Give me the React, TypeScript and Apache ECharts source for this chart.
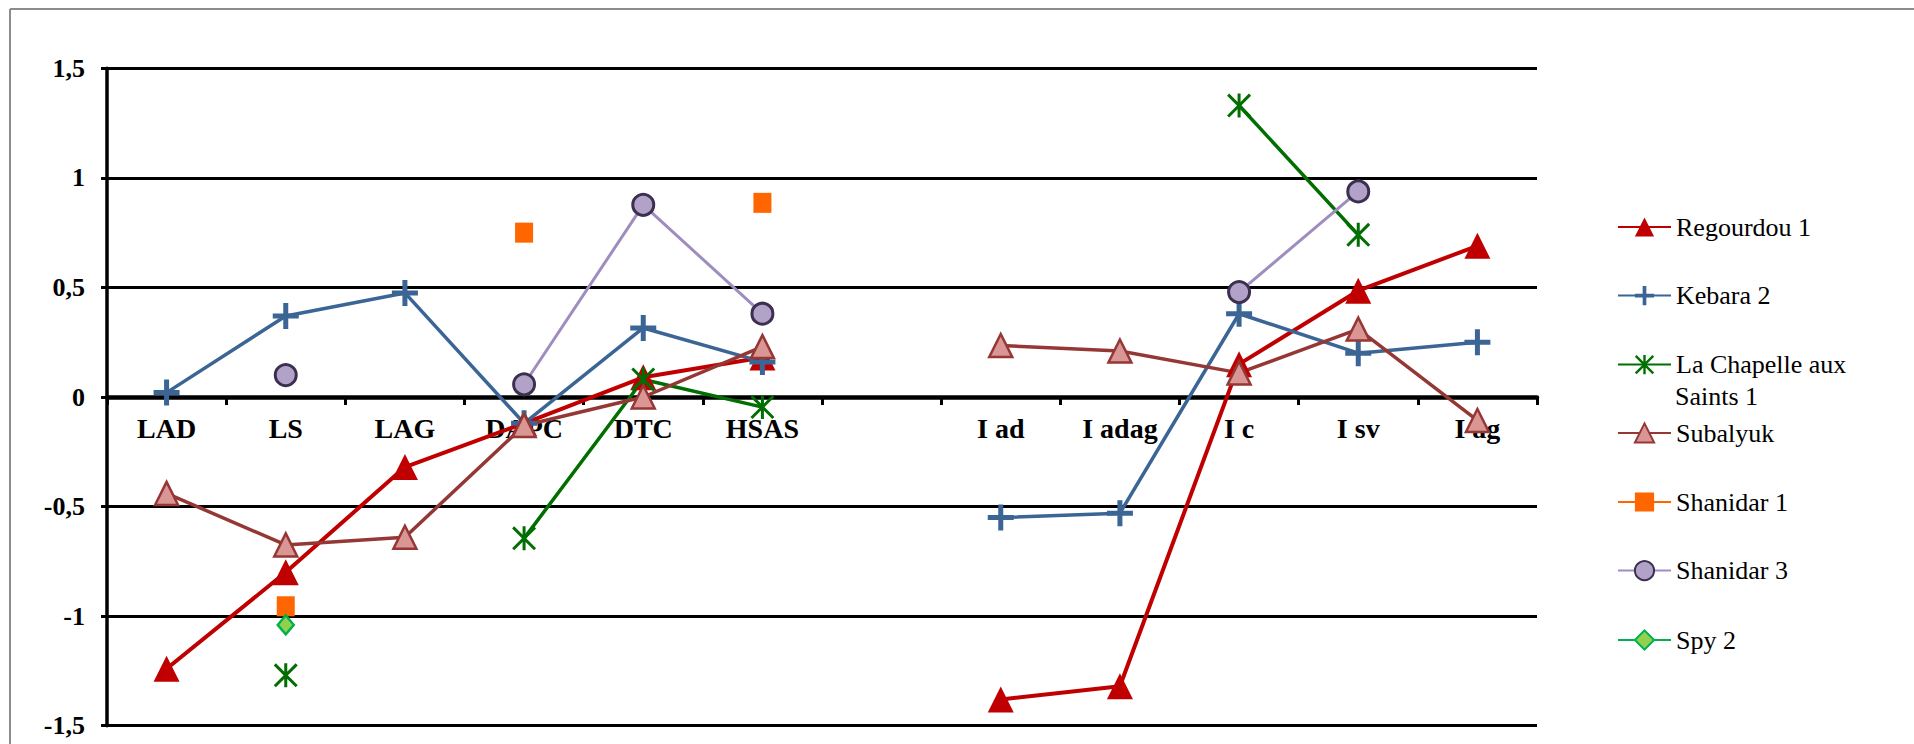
import React, { useEffect, useRef } from "react";
import * as echarts from "echarts";

const categories = ["LAD", "LS", "LAG", "DAPC", "DTC", "HSAS", "", "I ad", "I adag", "I c", "I sv", "I ag"];

const regourdou1 = [-1.24, -0.8, -0.32, -0.12, 0.09, 0.18, null, -1.38, -1.32, 0.15, 0.485, 0.69];
const kebara2 = [0.02, 0.37, 0.475, -0.12, 0.315, 0.16, null, -0.55, -0.53, 0.38, 0.2, 0.25];
const laChapelle1 = [null, -1.27, null, -0.645, 0.08, -0.046, null, null, null, 1.33, 0.74, null];
const subalyuk = [-0.44, -0.675, -0.64, -0.13, 0.0, 0.23, null, 0.235, 0.21, 0.11, 0.31, -0.107];
const shanidar1 = [null, -0.955, null, 0.75, null, 0.886, null, null, null, null, null, null];
const shanidar3 = [null, 0.1, null, 0.058, 0.877, 0.38, null, null, null, 0.479, 0.938, null];
const spy2 = [null, -1.04, null, null, null, null, null, null, null, null, null, null];

const yTicks = { min: -1.5, max: 1.5, interval: 0.5 };

const seriesNames = [
  "Regourdou 1",
  "Kebara 2",
  "La Chapelle aux Saints 1",
  "Subalyuk",
  "Shanidar 1",
  "Shanidar 3",
  "Spy 2",
];

const FONT = "'Liberation Serif', 'Times New Roman', serif";

const PLUS = "path://M10.5,0H15.5V10.5H26V15.5H15.5V26H10.5V15.5H0V10.5H10.5Z";
const STAR =
  "path://M10.5,0H13.5V24H10.5Z M0,2.1L2.1,0L24,21.9L21.9,24Z M21.9,0L24,2.1L2.1,24L0,21.9Z";

export default function App() {
  const ref = useRef<HTMLDivElement>(null);

  useEffect(() => {
    if (!ref.current) return;
    const chart = echarts.init(ref.current, null, { renderer: "svg" });

    const gridTop = 68.3;
    const gridBottomPx = 725.7;
    const zeroOffset = (gridBottomPx - gridTop) / 2;

    const legendTops = [226, 294.6, 363.6, 432, 501, 569.6, 639];
    const legends = seriesNames.map((name, i) => ({
      data: [name],
      left: 1617,
      top: legendTops[i] - 12,
      orient: "vertical",
      padding: 0,
      itemWidth: 53,
      itemHeight: 24,
      selectedMode: false,
      formatter: (n: string) => (n === "La Chapelle aux Saints 1" ? "La Chapelle aux" : n),
      textStyle: { fontFamily: FONT, fontSize: 26, color: "#000", lineHeight: 24 },
    }));

    const option: any = {
      animation: false,
      backgroundColor: "#fff",
      grid: {
        left: 107,
        right: 377,
        top: gridTop,
        bottom: 744 - gridBottomPx,
        containLabel: false,
        outerBoundsMode: "none",
      },
      legend: legends,
      graphic: [
        { type: "line", shape: { x1: 10, y1: 9, x2: 1914, y2: 9 }, style: { stroke: "#8c8c8c", lineWidth: 2 } },
        { type: "line", shape: { x1: 10, y1: 9, x2: 10, y2: 744 }, style: { stroke: "#8c8c8c", lineWidth: 2 } },
        {
          type: "text",
          left: 1675,
          top: 396 - 13,
          style: { text: "Saints 1", fontFamily: FONT, fontSize: 26, fill: "#000" },
        },
      ],
      xAxis: [
        {
          type: "category",
          data: categories,
          boundaryGap: true,
          axisLine: { onZero: true, lineStyle: { color: "#000", width: 4.5 } },
          axisTick: { show: true, length: 8, interval: 0, alignWithLabel: false, lineStyle: { color: "#000", width: 3 } },
          axisLabel: { show: false },
          splitLine: { show: false },
        },
        {
          type: "category",
          data: categories,
          position: "bottom",
          offset: -zeroOffset,
          boundaryGap: true,
          axisLine: { show: false, onZero: false },
          axisTick: { show: false },
          axisLabel: {
            interval: 0,
            margin: 17,
            fontFamily: FONT,
            fontWeight: "bold",
            fontSize: 28,
            color: "#000",
          },
          splitLine: { show: false },
        },
      ],
      yAxis: {
        type: "value",
        min: yTicks.min,
        max: yTicks.max,
        interval: yTicks.interval,
        axisLine: { show: true, lineStyle: { color: "#000", width: 3.5 } },
        axisTick: { show: true, length: 6, lineStyle: { color: "#000", width: 3 } },
        axisLabel: {
          margin: 22,
          fontFamily: FONT,
          fontWeight: "bold",
          fontSize: 26,
          color: "#000",
          formatter: (v: number) => String(v).replace(".", ","),
        },
        splitLine: { show: true, lineStyle: { color: "#000", width: 2.8 } },
      },
      series: [
        {
          name: seriesNames[0],
          type: "line",
          data: regourdou1,
          connectNulls: false,
          symbol: "triangle",
          symbolSize: 26,
          showAllSymbol: true,
          lineStyle: { color: "#C00000", width: 4 },
          itemStyle: { color: "#C00000", borderColor: "#C00000", borderWidth: 0 },
        },
        {
          name: seriesNames[1],
          type: "line",
          data: kebara2,
          connectNulls: false,
          symbol: PLUS,
          symbolSize: 26,
          showAllSymbol: true,
          lineStyle: { color: "#3A6595", width: 3.5 },
          itemStyle: { color: "#3A6595", borderWidth: 0 },
        },
        {
          name: seriesNames[2],
          type: "line",
          data: laChapelle1,
          connectNulls: false,
          symbol: STAR,
          symbolSize: 24,
          showAllSymbol: true,
          lineStyle: { color: "#006E00", width: 3.5 },
          itemStyle: { color: "#006E00", borderWidth: 0 },
        },
        {
          name: seriesNames[3],
          type: "line",
          data: subalyuk,
          connectNulls: false,
          symbol: "triangle",
          symbolSize: 23,
          showAllSymbol: true,
          lineStyle: { color: "#953735", width: 3.5 },
          itemStyle: { color: "#D99694", borderColor: "#953735", borderWidth: 2.5 },
        },
        {
          name: seriesNames[4],
          type: "line",
          data: shanidar1,
          connectNulls: false,
          symbol: "rect",
          symbolSize: [18, 20],
          showAllSymbol: true,
          lineStyle: { color: "#FF6600", width: 3.5 },
          itemStyle: { color: "#FF6600", borderWidth: 0 },
        },
        {
          name: seriesNames[5],
          type: "line",
          data: shanidar3,
          connectNulls: false,
          symbol: "circle",
          symbolSize: 21,
          showAllSymbol: true,
          lineStyle: { color: "#A08DBF", width: 3 },
          itemStyle: { color: "#B3A2C7", borderColor: "#3C2F50", borderWidth: 3 },
        },
        {
          name: seriesNames[6],
          type: "line",
          data: spy2,
          connectNulls: false,
          symbol: "diamond",
          symbolSize: [16, 19],
          showAllSymbol: true,
          lineStyle: { color: "#00B050", width: 3.5 },
          itemStyle: { color: "#92D050", borderColor: "#00B050", borderWidth: 2.5 },
        },
      ],
    };

    chart.setOption(option);
    return () => chart.dispose();
  }, []);

  return (
    <div
      ref={ref}
      style={{ position: "fixed", left: 0, top: 0, width: 1914, height: 744, background: "#fff" }}
    />
  );
}
